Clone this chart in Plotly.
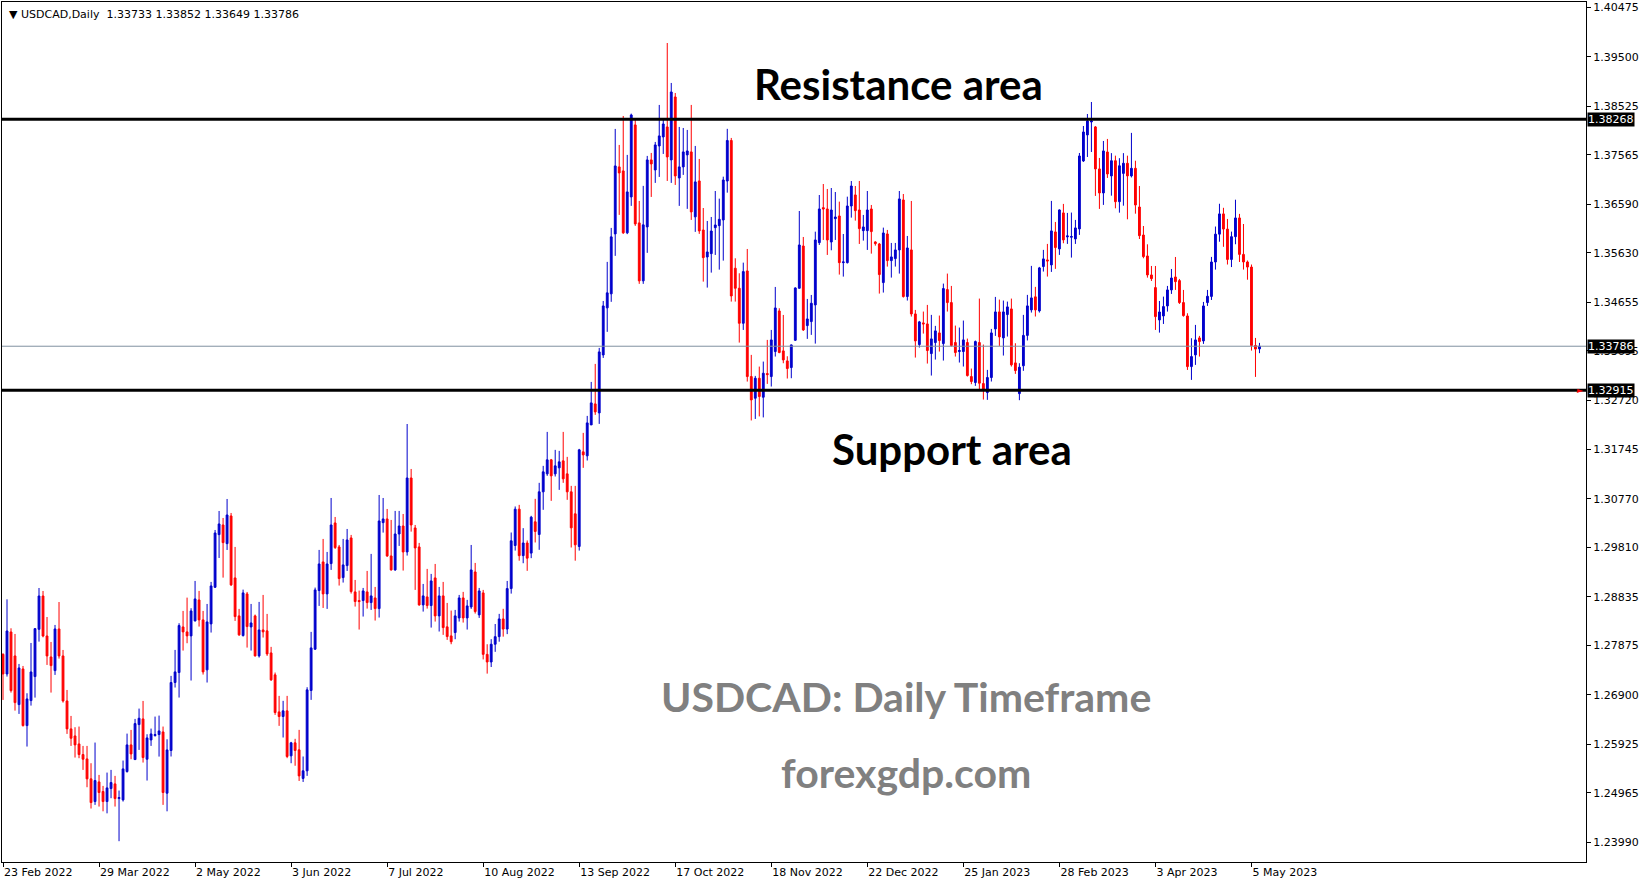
import plotly.graph_objects as go

# ---------------- data ----------------
opens = [
1.27701,1.27313,1.28142,1.27669,1.26708,1.27412,1.26293,1.26787,1.27261,1.28195,
1.28853,1.28063,1.27649,1.27379,1.28202,1.27669,1.26780,1.26228,1.26089,1.25931,
1.25721,1.25635,1.25241,1.24793,1.25181,1.24991,1.24793,1.25050,1.25142,1.24852,
1.24826,1.25385,1.25912,1.25622,1.26313,1.26425,1.25629,1.26010,1.26096,1.26116,
1.26168,1.24958,1.25801,1.27144,1.27341,1.28242,1.28144,1.28065,1.28361,1.28775,
1.28381,1.27394,1.28302,1.29025,1.30065,1.30256,1.29887,1.30434,1.29210,1.28460,
1.28071,1.28894,1.28242,1.28460,1.27670,1.28183,1.28164,1.27729,1.27295,1.26564,
1.26472,1.26584,1.25696,1.25953,1.25814,1.25250,1.25400,1.26986,1.27802,1.28960,
1.29526,1.28894,1.29493,1.30296,1.29822,1.29216,1.29453,1.30000,1.28934,1.28763,
1.28763,1.28934,1.28723,1.28815,1.28604,1.30302,1.30375,1.29644,1.29368,1.30078,
1.30236,1.29723,1.31184,1.30197,1.29822,1.28677,1.28835,1.28664,1.29210,1.28460,
1.28855,1.28243,1.28065,1.28131,1.28420,1.28815,1.28420,1.28637,1.29328,1.28480,
1.28914,1.27700,1.27550,1.27900,1.28050,1.28400,1.28200,1.29000,1.29850,1.30568,
1.29650,1.29900,1.29700,1.30318,1.30068,1.30910,1.31265,1.31542,1.31265,1.31384,
1.31522,1.31265,1.30910,1.30476,1.29831,1.31700,1.31621,1.32232,1.32647,1.32469,
1.33614,1.34544,1.34821,1.36005,1.37328,1.37249,1.36025,1.36735,1.38157,1.36222,
1.35077,1.36143,1.37466,1.37268,1.37742,1.37920,1.38117,1.37466,1.38709,1.37110,
1.37328,1.37565,1.37624,1.36341,1.37051,1.36082,1.35549,1.35615,1.36128,1.36168,
1.36280,1.37049,1.37850,1.35326,1.34931,1.34240,1.35273,1.33187,1.32759,1.33154,
1.32779,1.33246,1.33187,1.33681,1.34483,1.33694,1.33496,1.33365,1.33904,1.34931,
1.35766,1.34194,1.34273,1.34602,1.35832,1.36523,1.36497,1.35845,1.36306,1.36359,
1.35437,1.35437,1.36556,1.36774,1.36477,1.36069,1.36069,1.36497,1.35846,1.35806,
1.35043,1.36004,1.35477,1.35517,1.35688,1.36675,1.34767,1.35688,1.34424,1.33819,
1.34247,1.34227,1.33641,1.33859,1.34049,1.33839,1.34905,1.34648,1.33859,1.33681,
1.33681,1.33859,1.33187,1.33069,1.33859,1.33049,1.32871,1.33168,1.34128,1.34464,
1.33951,1.34411,1.34523,1.33457,1.32850,1.33400,1.34000,1.34504,1.34761,1.34484,
1.35360,1.35491,1.35392,1.36044,1.35708,1.36419,1.35945,1.35939,1.35906,1.36103,
1.37445,1.37959,1.38215,1.38117,1.37288,1.36814,1.37623,1.37150,1.37450,1.36641,
1.37200,1.37400,1.37150,1.37300,1.36536,1.35983,1.35569,1.35194,1.34944,1.34305,
1.34384,1.34582,1.34898,1.35154,1.35082,1.34648,1.34384,1.33384,1.33615,1.33950,
1.33891,1.34648,1.34770,1.35450,1.36000,1.36400,1.36100,1.35500,1.35950,1.36320,
1.35600,1.35450,1.35350,1.33800,1.33733]

highs = [
1.27721,1.28787,1.28215,1.28103,1.27511,1.27471,1.26932,1.27925,1.28221,1.29011,
1.28952,1.28438,1.27945,1.28281,1.28734,1.27787,1.26997,1.26484,1.26261,1.26274,
1.25892,1.25892,1.25550,1.25958,1.25319,1.25102,1.25365,1.25418,1.25300,1.25010,
1.25603,1.26135,1.26208,1.26425,1.26629,1.26780,1.26122,1.26234,1.26471,1.26491,
1.26274,1.26023,1.27275,1.27788,1.28315,1.28558,1.28821,1.28611,1.29150,1.28953,
1.28558,1.28696,1.29131,1.30157,1.30532,1.30394,1.30769,1.30493,1.29822,1.28598,
1.28979,1.28933,1.28696,1.28486,1.28736,1.28874,1.28499,1.27848,1.27341,1.26880,
1.26782,1.26880,1.25972,1.26032,1.26209,1.25683,1.27051,1.28144,1.29019,1.29763,
1.29980,1.29723,1.30789,1.30414,1.29861,1.29980,1.30177,1.30059,1.29170,1.28960,
1.29012,1.29348,1.29684,1.29032,1.30848,1.30789,1.30572,1.30355,1.30533,1.30533,
1.30473,1.32250,1.31362,1.30256,1.29901,1.29091,1.29388,1.29289,1.29486,1.29032,
1.29131,1.28716,1.28565,1.28578,1.28874,1.28934,1.28776,1.29861,1.29506,1.29012,
1.28973,1.27900,1.28000,1.28300,1.28500,1.28600,1.29150,1.30107,1.30621,1.30653,
1.30193,1.29950,1.30436,1.30772,1.31088,1.31423,1.32094,1.31560,1.31739,1.31719,
1.32094,1.31601,1.31028,1.31028,1.31759,1.32075,1.32410,1.33081,1.33437,1.33753,
1.34680,1.35452,1.36123,1.38078,1.37762,1.38334,1.37565,1.38380,1.38255,1.36656,
1.36953,1.37545,1.37604,1.37821,1.38552,1.38275,1.39775,1.38986,1.38788,1.38117,
1.38097,1.38058,1.38552,1.37742,1.37485,1.36516,1.36260,1.36339,1.36852,1.36701,
1.37135,1.38080,1.37900,1.35523,1.35227,1.35437,1.35707,1.33615,1.33200,1.33384,
1.33483,1.33911,1.34108,1.34957,1.34536,1.34404,1.33588,1.33820,1.34950,1.36457,
1.35944,1.34720,1.34799,1.36049,1.36773,1.36990,1.36892,1.36911,1.36832,1.36642,
1.36003,1.36740,1.37049,1.36951,1.37050,1.36379,1.36852,1.36576,1.35860,1.35826,
1.36129,1.36083,1.35826,1.35826,1.36852,1.36793,1.35964,1.36655,1.34503,1.34286,
1.34471,1.34602,1.34405,1.34188,1.34392,1.35023,1.35221,1.34977,1.34194,1.34155,
1.34293,1.33937,1.33345,1.33898,1.34727,1.33819,1.33319,1.34128,1.34760,1.34707,
1.34688,1.34668,1.34727,1.33845,1.33450,1.34405,1.34800,1.35373,1.34958,1.35353,
1.35689,1.35807,1.36656,1.36241,1.36490,1.36597,1.36419,1.36426,1.36281,1.37603,
1.38136,1.38373,1.38610,1.38136,1.37505,1.37840,1.37880,1.37600,1.37550,1.37500,
1.37600,1.37550,1.38000,1.37450,1.36951,1.36161,1.35799,1.35371,1.35371,1.34680,
1.34766,1.34977,1.35312,1.35549,1.35115,1.34898,1.34437,1.33944,1.34207,1.33990,
1.34661,1.34898,1.35550,1.36150,1.36600,1.36520,1.36300,1.36050,1.36680,1.36400,
1.36200,1.35480,1.35400,1.33950,1.33852]

lows = [
1.26800,1.27261,1.26945,1.26589,1.26524,1.26274,1.25879,1.26688,1.26846,1.27952,
1.28037,1.27491,1.26945,1.27294,1.27616,1.26747,1.26129,1.25892,1.25662,1.25649,
1.25418,1.25076,1.24655,1.24727,1.24694,1.24600,1.24560,1.24859,1.24694,1.24010,
1.24793,1.25365,1.25629,1.25616,1.25813,1.25563,1.25208,1.25892,1.26076,1.25681,
1.24727,1.24600,1.25683,1.27045,1.26847,1.27775,1.27920,1.27183,1.28350,1.28249,
1.27301,1.27144,1.28131,1.29012,1.29604,1.29216,1.29762,1.29052,1.28361,1.28065,
1.28052,1.27834,1.27775,1.27657,1.27637,1.28032,1.27670,1.27176,1.26505,1.26288,
1.26058,1.25650,1.25550,1.25500,1.25200,1.25180,1.25300,1.26801,1.27788,1.28657,
1.28617,1.28598,1.29368,1.29782,1.29059,1.29118,1.29348,1.28901,1.28644,1.28190,
1.28447,1.28604,1.28578,1.28368,1.28427,1.30105,1.29624,1.29355,1.29350,1.29842,
1.29355,1.29651,1.30124,1.28973,1.28660,1.28545,1.28604,1.28229,1.28348,1.28151,
1.28085,1.27986,1.27900,1.27999,1.28348,1.28328,1.28190,1.28598,1.28506,1.28420,
1.27600,1.27320,1.27450,1.27750,1.27950,1.28050,1.28100,1.28900,1.29750,1.29550,
1.29500,1.29350,1.29600,1.29910,1.29765,1.30555,1.31226,1.30732,1.31213,1.30949,
1.31088,1.30752,1.29811,1.29550,1.29750,1.31384,1.31529,1.32232,1.32430,1.32252,
1.33555,1.34070,1.34663,1.35571,1.36380,1.36005,1.36000,1.36558,1.36163,1.35018,
1.35018,1.35630,1.36735,1.37012,1.37130,1.37584,1.37051,1.37012,1.36972,1.36558,
1.37170,1.36499,1.36281,1.36045,1.36005,1.35062,1.34944,1.35240,1.35589,1.35299,
1.35477,1.36819,1.34668,1.34668,1.33858,1.34108,1.33088,1.32320,1.32350,1.32400,
1.32380,1.33042,1.32990,1.33582,1.33648,1.33450,1.33148,1.33154,1.33891,1.34924,
1.34088,1.33931,1.34010,1.33838,1.35786,1.35885,1.35589,1.35681,1.35885,1.35201,
1.35161,1.35420,1.36326,1.36267,1.35806,1.35872,1.35688,1.35615,1.35773,1.34826,
1.34846,1.35359,1.35142,1.35359,1.35221,1.34747,1.34688,1.34372,1.33562,1.33760,
1.34036,1.33444,1.33207,1.33523,1.33681,1.33503,1.34471,1.33780,1.33582,1.33464,
1.33385,1.33187,1.33036,1.33003,1.32937,1.32733,1.32727,1.33089,1.33990,1.33793,
1.33602,1.33977,1.33385,1.33240,1.32720,1.33300,1.33900,1.34451,1.34373,1.34451,
1.35261,1.35162,1.35254,1.35314,1.35590,1.35820,1.35807,1.35537,1.35807,1.35985,
1.37426,1.37524,1.37623,1.36755,1.36498,1.36577,1.37110,1.36760,1.36510,1.36424,
1.36562,1.36293,1.37120,1.36404,1.35904,1.35523,1.35141,1.35075,1.34108,1.34055,
1.34226,1.34470,1.34819,1.34898,1.34621,1.34371,1.33318,1.33121,1.33417,1.33582,
1.33832,1.34582,1.34700,1.35300,1.35850,1.35750,1.35400,1.35350,1.35800,1.35450,
1.35300,1.35100,1.33700,1.33180,1.33649]

closes = [
1.27313,1.28162,1.26984,1.26747,1.27432,1.26293,1.26820,1.27353,1.28208,1.28853,
1.28063,1.27669,1.27478,1.28202,1.27669,1.26780,1.26228,1.26043,1.25912,1.25721,
1.25629,1.25241,1.24773,1.25208,1.24971,1.24793,1.25063,1.25168,1.24852,1.24872,
1.25438,1.25912,1.25734,1.26333,1.26438,1.25662,1.26050,1.26129,1.26116,1.26188,
1.24971,1.25813,1.27144,1.27354,1.28269,1.28144,1.28065,1.28558,1.28795,1.28381,
1.27354,1.28341,1.29052,1.30098,1.30276,1.29907,1.30453,1.29072,1.28446,1.28085,
1.28914,1.28249,1.28321,1.27670,1.28183,1.28144,1.27709,1.27196,1.26551,1.26472,
1.26584,1.25683,1.25953,1.25801,1.25300,1.25400,1.26999,1.27828,1.28973,1.29486,
1.28894,1.29486,1.30256,1.29809,1.29197,1.29467,1.29960,1.28940,1.28743,1.28743,
1.28953,1.28723,1.28855,1.28604,1.30335,1.30375,1.29644,1.29368,1.30078,1.30236,
1.29723,1.31184,1.30256,1.29802,1.28677,1.28855,1.28664,1.29151,1.28460,1.28855,
1.28229,1.28052,1.27950,1.28460,1.28815,1.28420,1.28657,1.29368,1.28545,1.28953,
1.27700,1.27550,1.27900,1.28050,1.28400,1.28200,1.29000,1.29943,1.30568,1.29650,
1.29900,1.29600,1.30410,1.30127,1.30910,1.31305,1.31542,1.31226,1.31423,1.31502,
1.31167,1.30910,1.30199,1.29864,1.31739,1.31640,1.32272,1.32667,1.32489,1.33674,
1.34582,1.34840,1.35946,1.37347,1.37209,1.36025,1.36834,1.38354,1.36202,1.35077,
1.36183,1.37466,1.37387,1.37762,1.37940,1.38176,1.37525,1.38808,1.37150,1.37328,
1.37624,1.37643,1.36439,1.37032,1.36064,1.35536,1.35648,1.36062,1.36181,1.36293,
1.37069,1.37850,1.34779,1.34931,1.34240,1.35260,1.33187,1.32726,1.33154,1.32792,
1.33253,1.33226,1.33911,1.34542,1.33661,1.33516,1.33345,1.33812,1.34937,1.35786,
1.34108,1.34325,1.34635,1.35885,1.36497,1.36497,1.35885,1.36477,1.36339,1.35437,
1.35451,1.36556,1.36951,1.36464,1.36109,1.36142,1.36477,1.36050,1.35813,1.35201,
1.36023,1.35477,1.35550,1.35688,1.36695,1.34767,1.35727,1.34424,1.33891,1.34267,
1.34227,1.33701,1.33931,1.34089,1.33898,1.34925,1.34648,1.33799,1.33661,1.33701,
1.33911,1.33207,1.33089,1.33878,1.33056,1.32924,1.33168,1.34049,1.34464,1.33970,
1.34464,1.34563,1.33418,1.33306,1.33372,1.34000,1.34583,1.34741,1.34504,1.35333,
1.35511,1.35471,1.36064,1.35735,1.36478,1.35886,1.35965,1.35952,1.36123,1.37544,
1.38018,1.38235,1.38235,1.37288,1.36814,1.37643,1.37189,1.37450,1.36641,1.37350,
1.37400,1.37150,1.37300,1.36576,1.35970,1.35556,1.35194,1.35121,1.34371,1.34463,
1.34569,1.34898,1.35134,1.35062,1.34648,1.34391,1.33384,1.33582,1.33911,1.33878,
1.34582,1.34773,1.35450,1.36000,1.36400,1.36100,1.35500,1.35950,1.36320,1.35600,
1.35450,1.35350,1.33800,1.33730,1.33786]

date_labels = ["23 Feb 2022", "29 Mar 2022", "2 May 2022", "3 Jun 2022", "7 Jul 2022",
               "10 Aug 2022", "13 Sep 2022", "17 Oct 2022", "18 Nov 2022", "22 Dec 2022",
               "25 Jan 2023", "28 Feb 2023", "3 Apr 2023", "5 May 2023"]
bars_per_label = 24

price_ticks = [1.40475, 1.39500, 1.38525, 1.37565, 1.36590, 1.35630, 1.34655, 1.33695,
               1.32720, 1.31745, 1.30770, 1.29810, 1.28835, 1.27875, 1.26900, 1.25925,
               1.24965, 1.23990]

resistance = 1.38268
support = 1.32915
last_price = 1.33786
header = "▼ USDCAD,Daily  1.33733 1.33852 1.33649 1.33786"

# ---------------- figure ----------------
n = len(closes)
bar_index = list(range(n))

BLUE = "#0000CC"
RED = "#FF0000"
AX_FONT = dict(family="DejaVu Sans", size=11, color="black")

fig = go.Figure()
fig.add_trace(go.Candlestick(
    x=bar_index, open=opens, high=highs, low=lows, close=closes,
    increasing=dict(line=dict(color=BLUE, width=1), fillcolor=BLUE),
    decreasing=dict(line=dict(color=RED, width=1), fillcolor=RED),
    whiskerwidth=0, hoverinfo="skip", showlegend=False,
))

shapes = [
    dict(type="line", xref="paper", x0=0, x1=1, yref="y", y0=resistance, y1=resistance,
         line=dict(color="black", width=3)),
    dict(type="line", xref="paper", x0=0, x1=1, yref="y", y0=support, y1=support,
         line=dict(color="black", width=3)),
    dict(type="line", xref="paper", x0=0, x1=1, yref="y", y0=last_price, y1=last_price,
         line=dict(color="#8090A0", width=1)),
]

def price_box(p):
    return dict(xref="paper", x=1, xanchor="left", xshift=1, yref="y", y=p, yanchor="middle",
                text=f"{p:.5f}", showarrow=False, bgcolor="black",
                font=dict(family="DejaVu Sans", size=11, color="white"), borderpad=0)

big = dict(family="Lato", size=42, color="black", weight="bold")
grey = dict(family="Lato", size=41, color="#808080", weight="bold")

def label(x, y, text, font):
    return dict(xref="paper", yref="paper", x=x, y=y, xanchor="center", yanchor="middle",
                text=text, showarrow=False, font=font)

annotations = [
    dict(xref="paper", yref="paper", x=0, y=1, xanchor="left", yanchor="top", xshift=5, yshift=-4,
         text=header, showarrow=False, font=dict(family="DejaVu Sans", size=11, color="black")),
    label(0.5660, 0.9047, "Resistance area", big),
    label(0.6000, 0.4802, "Support area", big),
    label(0.5705, 0.1922, "USDCAD: Daily Timeframe", grey),
    label(0.5705, 0.1040, "forexgdp.com", grey),
    price_box(resistance),
    price_box(last_price),
    price_box(support),
    dict(xref="paper", x=1, xanchor="right", yref="y", y=support, yanchor="middle",
         text="►", showarrow=False, font=dict(family="DejaVu Sans", size=8, color=RED)),
]

fig.update_layout(
    width=1649, height=884,
    margin=dict(l=2, r=63, t=2, b=22),
    paper_bgcolor="white", plot_bgcolor="white",
    shapes=shapes, annotations=annotations,
    boxgap=0.35,
    xaxis=dict(
        range=[-0.25, 395.6], rangeslider=dict(visible=False),
        showgrid=False, zeroline=False,
        showline=True, linecolor="black", linewidth=1, mirror=True,
        tickmode="array", tickvals=[k * bars_per_label for k in range(len(date_labels))],
        ticktext=date_labels, ticks="outside", ticklen=4, tickcolor="black",
        ticklabelposition="outside right", tickfont=AX_FONT, fixedrange=True,
    ),
    yaxis=dict(
        range=[1.23599, 1.40585], side="right",
        showgrid=False, zeroline=False,
        showline=True, linecolor="black", linewidth=1, mirror=True,
        tickmode="array", tickvals=price_ticks,
        ticktext=[f"{v:.5f}" for v in price_ticks],
        ticks="outside", ticklen=4, tickcolor="black", tickfont=AX_FONT, fixedrange=True,
    ),
)

fig.write_html(
    "out.html",
    config={"displayModeBar": False},
    post_script="document.body.style.margin='0';document.body.style.overflow='hidden';",
)
